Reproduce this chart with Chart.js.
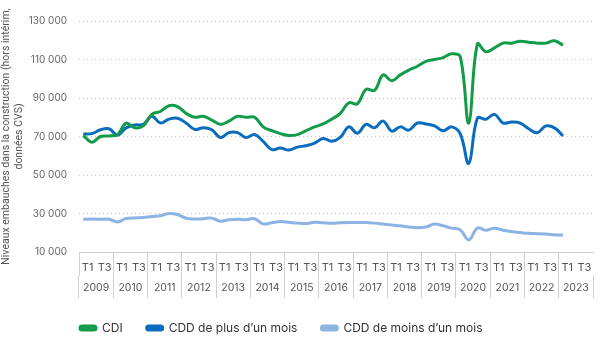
<!DOCTYPE html>
<html lang="fr">
<head>
<meta charset="utf-8">
<script src="https://cdn.jsdelivr.net/npm/chart.js@4"></script>
<style>
  html, body { margin: 0; padding: 0; background: #fff; }
  #wrap { width: 600px; height: 338px; position: relative; }
</style>
</head>
<body>
<div id="wrap"><canvas id="embauchesChart"></canvas></div>
<script>
// années affichées sous l'axe
var annees = ['2009', '2010', '2011', '2012', '2013', '2014', '2015', '2016',
              '2017', '2018', '2019', '2020', '2021', '2022', '2023'];

// niveaux trimestriels, de 2009 T1 à 2023 T1
var cdi = [70500, 67000, 70000, 70300, 71000, 77000, 74500, 75500,
           81500, 83000, 86000, 85500, 82000, 80000, 80500, 78500,
           76300, 78000, 80500, 80000, 80000, 75000, 73000, 71500,
           70500, 71000, 73000, 75000, 76500, 79000, 82000, 87500,
           87000, 94500, 94000, 102000, 99000, 102000, 104500, 106500,
           109000, 110000, 111000, 113000, 111500, 77000, 118000, 114000,
           116000, 118500, 118500, 119500, 119000, 118500, 118500, 119700,
           117500];
var cddPlus = [71300, 71500, 73500, 74000, 70700, 74500, 76000, 76300,
               80500, 77000, 79000, 79500, 77000, 73700, 74500, 73500,
               69500, 72000, 72000, 69500, 71000, 67500, 63200, 64000,
               63000, 64500, 65200, 66500, 69000, 67500, 69500, 75000,
               71700, 76300, 74500, 78000, 72800, 75000, 73300, 77000,
               76500, 75500, 73000, 75000, 71500, 56000, 79500, 79000,
               81500, 77000, 77500, 77000, 74000, 72000, 75500, 74500,
               70300];
var cddMoins = [27000, 27100, 27000, 27000, 25600, 27400, 27700, 27900,
                28500, 28800, 30000, 29500, 27500, 27100, 27300, 27600,
                26000, 26800, 27000, 26800, 27300, 24600, 25200, 25800,
                25400, 25000, 24800, 25400, 25200, 25000, 25200, 25300,
                25300, 25300, 25000, 24500, 24000, 23600, 23000, 22600,
                23000, 24500, 23600, 22400, 21500, 16300, 22400, 21300,
                22400, 21300, 20600, 20100, 19700, 19500, 19300, 19000,
                18800];

var trimestres = [];
var semestres = [];
annees.forEach(function(a) {
    ['T1', 'T2', 'T3', 'T4'].forEach(function(t) { trimestres.push(a + ' ' + t); });
    semestres.push('T1', 'T3');
});

var vert = '#129b48';
var bleu = '#0a6cbc';
var bleuClair = '#8cb3e3';
var gris = '#cfcfcf';

function formatNombre(v) {
    return String(v).replace(/\B(?=(\d{3})+(?!\d))/g, ' ');
}

Chart.defaults.font.family = 'Inter, "Noto Sans", sans-serif';

// la légende commence au bord gauche de la zone du graphique
var decalageLegende = {
    id: 'decalageLegende',
    beforeDraw: function(chart) {
        var leg = chart.legend;
        leg.left = chart.chartArea.left + 1 - leg.options.labels.padding;
    }
};

var ctx = document.getElementById('embauchesChart').getContext('2d');
var chart = new Chart(ctx, {
    type: 'line',
    data: {
        labels: trimestres,
        datasets: [{
            label: 'CDI',
            data: cdi,
            borderColor: vert,
            backgroundColor: vert
        }, {
            label: 'CDD de plus d\u2019un mois',
            data: cddPlus,
            borderColor: bleu,
            backgroundColor: bleu
        }, {
            label: 'CDD de moins d\u2019un mois',
            data: cddMoins,
            borderColor: bleuClair,
            backgroundColor: bleuClair
        }]
    },
    options: {
        responsive: true,
        maintainAspectRatio: false,
        animation: false,
        layout: { padding: { left: 0, right: 7, top: 21, bottom: 0 } },
        elements: {
            line: { borderWidth: 3, tension: 0.4 },
            point: { radius: 0 }
        },
        plugins: {
            tooltip: { enabled: false },
            legend: {
                position: 'bottom',
                align: 'start',
                maxHeight: 40,
                labels: {
                    boxWidth: 16,
                    boxHeight: 4,
                    padding: 24,
                    color: '#333',
                    font: { size: 12 },
                    useBorderRadius: true,
                    borderRadius: 2
                }
            }
        },
        scales: {
            x: {
                type: 'category',
                labels: trimestres,
                offset: true,
                display: false
            },
            xHalf: {
                type: 'category',
                labels: semestres,
                position: 'bottom',
                weight: 1,
                offset: true,
                grid: {
                    offset: true,
                    drawOnChartArea: false,
                    tickLength: 24,
                    color: function(c) { return c.index % 2 === 0 ? gris : 'rgba(0,0,0,0)'; }
                },
                border: { display: true, color: gris },
                ticks: {
                    autoSkip: false,
                    maxRotation: 0,
                    padding: -15,
                    color: '#555',
                    font: { size: 11 }
                },
                afterFit: function(s) { s.height = 24; }
            },
            xYear: {
                type: 'category',
                labels: annees,
                position: 'bottom',
                weight: 2,
                offset: true,
                grid: {
                    offset: true,
                    drawOnChartArea: false,
                    tickLength: 22,
                    color: gris
                },
                border: { display: false },
                ticks: {
                    autoSkip: false,
                    maxRotation: 0,
                    padding: -16,
                    color: '#555',
                    font: { size: 10.5 }
                },
                afterFit: function(s) { s.height = 22; }
            },
            y: {
                min: 10000,
                max: 130000,
                ticks: {
                    stepSize: 20000,
                    padding: 12,
                    color: '#666',
                    font: { size: 10 },
                    callback: function(v) { return formatNombre(v); }
                },
                grid: { color: '#c4c4c4', drawTicks: false },
                border: { display: false, dash: [1, 3] },
                title: {
                    display: true,
                    text: ['Niveaux embauches dans la construction (hors intérim,', 'données CVS)'],
                    color: '#555',
                    font: { family: 'Roboto, sans-serif', size: 10.5 },
                    padding: 0
                },
                afterFit: function(s) { s.width = 79; }
            }
        }
    },
    plugins: [decalageLegende]
});
</script>
</body>
</html>
